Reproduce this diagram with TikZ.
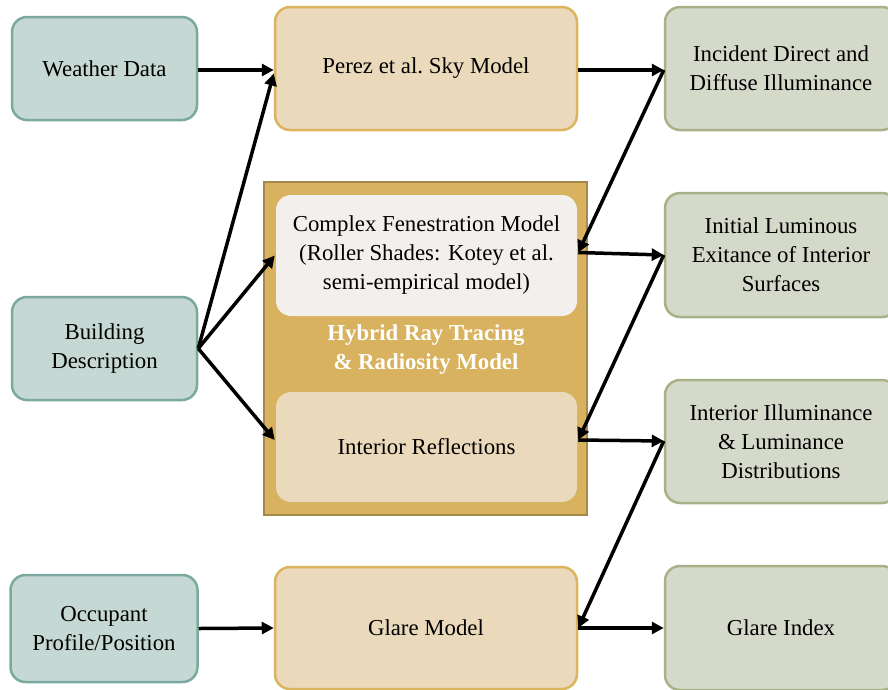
\documentclass[tikz,border=0pt]{standalone}
\usepackage{fontspec}
\setmainfont{Liberation Serif}
\usetikzlibrary{arrows.meta,calc}
\definecolor{inFill}{HTML}{C5D8D3}
\definecolor{inLine}{HTML}{7BA99F}
\definecolor{mdFill}{HTML}{EBD9BB}
\definecolor{mdLine}{HTML}{DDB45E}
\definecolor{outFill}{HTML}{D5D9CA}
\definecolor{outLine}{HTML}{A8B288}
\definecolor{goldFill}{HTML}{D8B25E}
\definecolor{goldLine}{HTML}{A5884C}
\definecolor{paleFill}{HTML}{F2EFEC}
\newcommand{\boxfont}{\fontsize{22.8}{29}\selectfont}
\tikzset{
  box/.style={rectangle, rounded corners=15pt, line width=2.5pt, align=center,
    inner sep=0pt, font=\boxfont},
  inbox/.style={box, draw=inLine, fill=inFill, minimum width=185pt, minimum height=103pt},
  mdbox/.style={box, draw=mdLine, fill=mdFill, minimum width=302pt, minimum height=123pt},
  outbox/.style={box, draw=outLine, fill=outFill, minimum width=232pt, minimum height=123pt},
  flow/.style={line width=3.5pt, -{Triangle[length=12pt,width=12pt]}},
}
\begin{document}
\begin{tikzpicture}[x=1pt,y=-1pt]
\useasboundingbox (0,0) rectangle (888,689);
\clip (0,0) rectangle (888,689);

% inputs
\node[inbox] (wd) at (104.5,68.5) {Weather Data};
\node[inbox] (bd) at (104.5,348.5) {Building\\Description};
\node[inbox, minimum width=187pt, minimum height=107pt] (op) at (104,628.5) {Occupant\\Profile/Position};

% models
\node[mdbox] (pz) at (426,68.5) {Perez et al.\ Sky Model};
\node[mdbox, minimum height=122pt] (gm) at (426,628) {Glare Model};

% hybrid container
\node[rectangle, draw=goldLine, fill=goldFill, line width=2.5pt,
  minimum width=323pt, minimum height=333pt] (hy) at (425.5,348.5) {};
\node[text=white, font=\boxfont\bfseries, align=center] (hyl) at (426,350)
  {Hybrid Ray Tracing\\\& Radiosity Model};
\node[box, fill=paleFill, minimum width=301pt, minimum height=121pt] (cf) at (426.5,255.5)
  {Complex Fenestration Model\\(Roller Shades: Kotey et al.\\semi-empirical model)};
\node[box, fill=mdFill, minimum width=301pt, minimum height=110pt] (ir) at (426.5,447)
  {Interior Reflections};

% outputs
\node[outbox] (id) at (781,68.5) {Incident Direct and\\Diffuse Illuminance};
\node[outbox, minimum height=124pt] (il) at (781,255) {Initial Luminous\\Exitance of Interior\\Surfaces};
\node[outbox] (ii) at (781,441.5) {Interior Illuminance\\\& Luminance\\Distributions};
\node[outbox, minimum height=124pt] (gi) at (781,628) {Glare Index};

% junction points on the boxes
\coordinate (wdOut) at ($(wd.east)+(0,1.5)$);
\coordinate (pzIn) at ($(pz.west)+(0,1.5)$);
\coordinate (pzIn2) at ($(pz.west)+(0,5)$);
\coordinate (pzOut) at ($(pz.east)+(0,1.5)$);
\coordinate (cfOut) at ($(cf.east)+(0,-3)$);
\coordinate (irIn) at ($(ir.west)+(0,-7)$);
\coordinate (irOut) at ($(ir.east)+(0,-7)$);
\coordinate (idIn) at ($(id.west)+(0,1.5)$);
\coordinate (iiIn) at ($(ii.west)+(0,-0.5)$);

% connectors
\draw[flow] (wdOut) -- (pzIn);
\draw[flow] (bd.east) -- (pzIn2);
\draw[flow] (bd.east) -- (cf.west);
\draw[flow] (bd.east) -- (irIn);
\draw[flow] (op.east) -- (gm.west);

\draw[flow] (pzOut) -- (idIn);
\draw[flow] (idIn) -- (cfOut);
\draw[flow] (cfOut) -- (il.west);
\draw[flow] (il.west) -- (irOut);
\draw[flow] (irOut) -- (iiIn);
\draw[flow] (iiIn) -- (gm.east);
\draw[flow] (gm.east) -- (gi.west);
\end{tikzpicture}
\end{document}
